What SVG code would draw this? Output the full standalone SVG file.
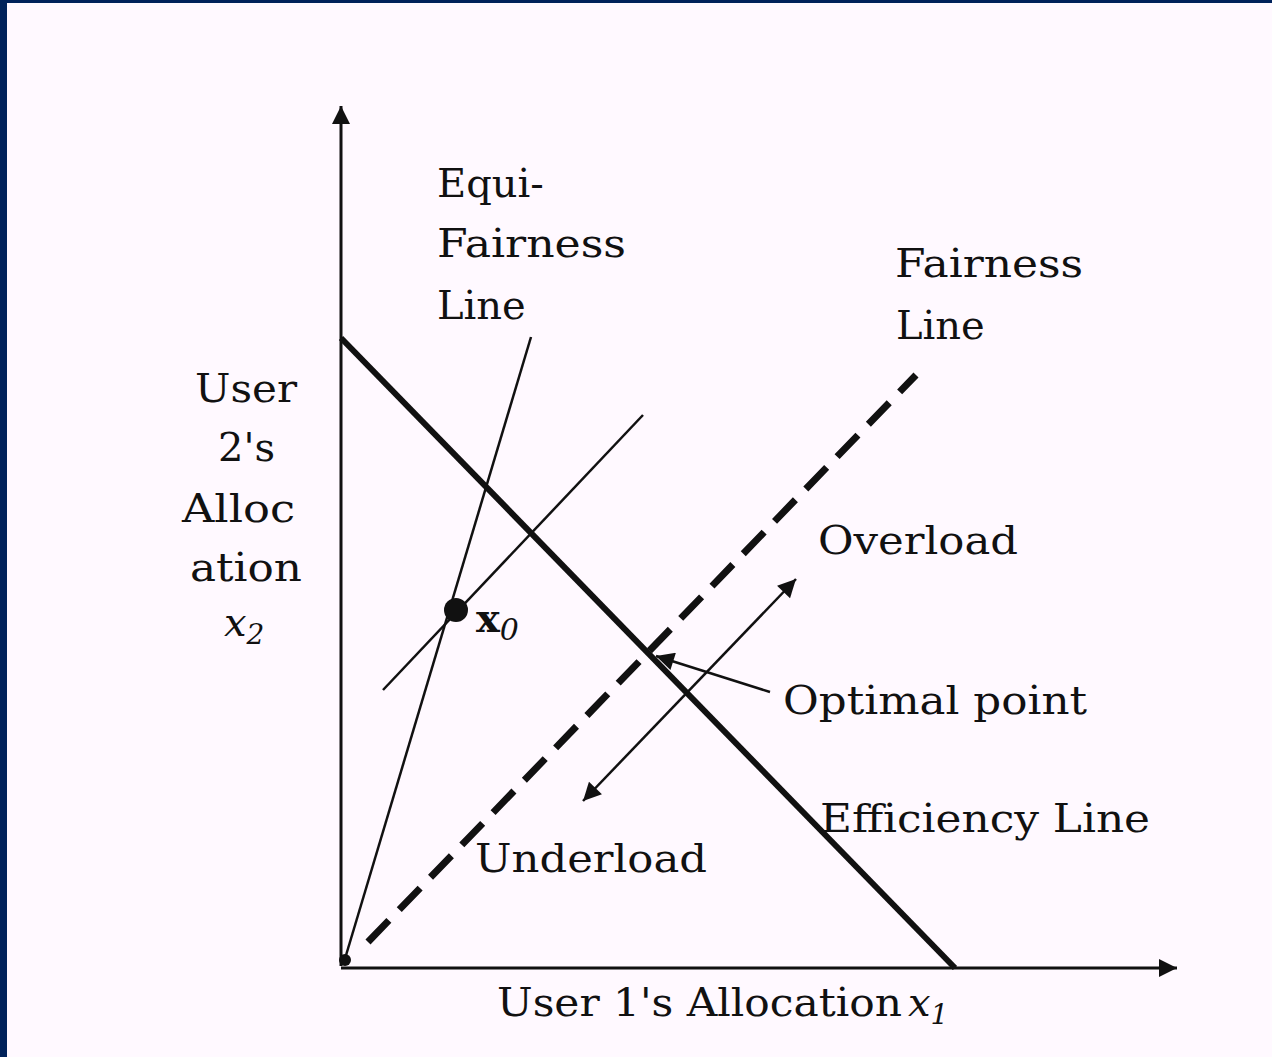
<svg xmlns="http://www.w3.org/2000/svg" width="1272" height="1057" viewBox="0 0 1272 1057">
<defs>
<style>
.t{font-family:"DejaVu Serif","Liberation Serif",serif;font-size:40px;fill:#111;}
.ax{stroke:#111;stroke-width:3;fill:none;}
.thin{stroke:#111;stroke-width:2.5;fill:none;}
</style>
<marker id="ah" viewBox="0 0 10 10" refX="10" refY="5" markerWidth="10" markerHeight="10" markerUnits="userSpaceOnUse" orient="auto-start-reverse">
<path d="M0,0 L10,5 L0,10 Z" fill="#111"/>
</marker>
<marker id="ah2" viewBox="0 0 10 10" refX="10" refY="5" markerWidth="22" markerHeight="18" markerUnits="userSpaceOnUse" orient="auto-start-reverse">
<path d="M0,0 L10,5 L0,10 Z" fill="#111"/>
</marker>
</defs>
<rect x="0" y="0" width="1272" height="1057" fill="#fff9ff"/>
<rect x="0" y="0" width="1272" height="3" fill="#00225a"/>
<rect x="0" y="0" width="7" height="1057" fill="#00225a"/>

<g id="connectors">
  <line id="y-axis" class="ax" x1="341" y1="966" x2="341" y2="106" marker-end="url(#ah2)"/>
  <line id="x-axis" class="ax" x1="341" y1="968" x2="1177" y2="968" marker-end="url(#ah2)"/>
  <line id="efficiency-line" x1="341" y1="338" x2="955" y2="968" stroke="#111" stroke-width="6"/>
  <line id="equi-fairness-line" class="thin" x1="344" y1="962" x2="531" y2="337"/>
  <line id="x0-line" class="thin" x1="383" y1="690" x2="643" y2="415"/>
  <line id="fairness-line" x1="368" y1="942" x2="916" y2="375" stroke="#111" stroke-width="7" stroke-dasharray="30 15"/>
  <line id="load-arrow" class="thin" x1="583" y1="801" x2="796" y2="579" marker-start="url(#ah2)" marker-end="url(#ah2)"/>
  <line id="optimal-pointer" class="thin" x1="770" y1="692" x2="656" y2="656" marker-end="url(#ah2)"/>
</g>

<g id="origin"><circle cx="345" cy="960" r="6" fill="#111"/></g>
<g id="x0-point">
  <circle cx="456" cy="610" r="12" fill="#111"/>
  <text class="t" x="476" y="632" font-weight="bold">x<tspan font-style="italic" font-weight="normal" font-size="30" dy="8">0</tspan></text>
</g>

<g id="label-equi-fairness">
  <text class="t" x="437" y="197">Equi-</text>
  <text class="t" x="437" y="257" textLength="189" lengthAdjust="spacingAndGlyphs">Fairness</text>
  <text class="t" x="437" y="319">Line</text>
</g>
<g id="label-fairness">
  <text class="t" x="895" y="277" textLength="188" lengthAdjust="spacingAndGlyphs">Fairness</text>
  <text class="t" x="896" y="339">Line</text>
</g>
<g id="label-y-axis">
  <text class="t" x="195" y="402" textLength="102" lengthAdjust="spacingAndGlyphs">User</text>
  <text class="t" x="218" y="461">2's</text>
  <text class="t" x="182" y="522" textLength="113" lengthAdjust="spacingAndGlyphs">Alloc</text>
  <text class="t" x="190" y="581" textLength="112" lengthAdjust="spacingAndGlyphs">ation</text>
  <text class="t" x="224" y="636" font-style="italic">x<tspan font-size="28" dy="8">2</tspan></text>
</g>
<g id="label-overload"><text class="t" x="818" y="554" textLength="200" lengthAdjust="spacingAndGlyphs">Overload</text></g>
<g id="label-optimal"><text class="t" x="783" y="714" textLength="304" lengthAdjust="spacingAndGlyphs">Optimal point</text></g>
<g id="label-efficiency"><text class="t" x="820" y="832" textLength="330" lengthAdjust="spacingAndGlyphs">Efficiency Line</text></g>
<g id="label-underload"><text class="t" x="475" y="872" textLength="232" lengthAdjust="spacingAndGlyphs">Underload</text></g>
<g id="label-x-axis"><text class="t" x="497" y="1016" textLength="405" lengthAdjust="spacingAndGlyphs">User 1's Allocation</text><text class="t" x="908" y="1016" font-style="italic">x<tspan font-size="28" dy="8">1</tspan></text></g>
</svg>
